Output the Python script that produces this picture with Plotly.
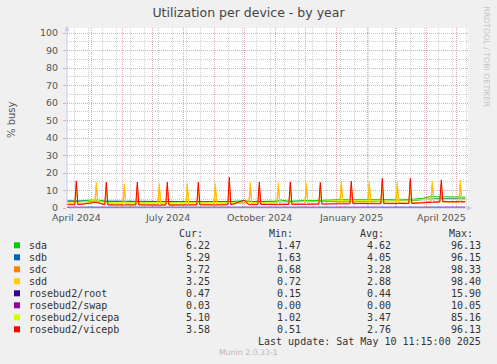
import plotly.graph_objects as go
import pandas as pd

# ---------------- data ----------------
knot_days = [
    "2024-04-07", "2024-04-14 12:00", "2024-04-17 12:00", "2024-04-28",
    "2024-05-04 12:00", "2024-05-07 12:00", "2024-05-14 12:00", "2024-05-17 12:00",
    "2024-06-01 12:00", "2024-06-04 12:00", "2024-06-14 12:00", "2024-06-17 12:00",
    "2024-07-06 12:00", "2024-07-09 12:00", "2024-07-14 12:00", "2024-07-17 12:00",
    "2024-08-03 12:00", "2024-08-06 12:00", "2024-08-14 12:00", "2024-08-17 12:00",
    "2024-08-31 12:00", "2024-09-03 12:00", "2024-09-14 12:00", "2024-09-17 12:00",
    "2024-10-01", "2024-10-05 12:00", "2024-10-08 12:00", "2024-10-14 12:00", "2024-10-17 12:00",
    "2024-11-02 12:00", "2024-11-05 12:00", "2024-11-14 12:00", "2024-11-17 12:00",
    "2024-11-30 12:00", "2024-12-03 12:00", "2024-12-14 12:00", "2024-12-17 12:00",
    "2025-01-04 12:00", "2025-01-07 12:00", "2025-01-14 12:00", "2025-01-17 12:00",
    "2025-02-01 12:00", "2025-02-04 12:00", "2025-02-14 12:00", "2025-02-17 12:00",
    "2025-03-01 12:00", "2025-03-04 12:00", "2025-03-14 12:00", "2025-03-17 12:00",
    "2025-03-29", "2025-04-05 12:00", "2025-04-08 12:00", "2025-04-14 12:00", "2025-04-17 12:00",
    "2025-05-03 12:00", "2025-05-06 12:00", "2025-05-10",
]

sda = [3.8, 3.7, 3.8, 4.4, 4.7, 4.6, 3.7, 3.6, 3.6, 3.5, 3.6, 3.5, 3.6, 3.7, 3.6, 3.5, 3.6, 3.7,
       3.6, 3.7, 3.7, 3.8, 3.6, 3.7, 4.2, 3.8, 3.7, 3.7, 3.8, 3.9, 4.6, 3.9, 4.0, 4.2, 4.3, 4.3,
       4.4, 4.7, 4.8, 4.6, 4.7, 4.7, 4.8, 4.7, 4.8, 4.9, 5.0, 4.8, 4.9, 5.6, 6.6, 6.4, 6.3, 6.4,
       6.3, 6.2, 6.22]
sdb = [4.1, 3.9, 3.9, 3.9, 4.0, 4.0, 3.8, 3.8, 3.7, 3.7, 3.7, 3.7, 3.6, 3.6, 3.6, 3.6, 3.6, 3.6,
       3.6, 3.6, 3.5, 3.6, 3.5, 3.5, 3.5, 3.4, 3.4, 3.4, 3.4, 3.4, 3.4, 3.4, 3.4, 3.5, 3.5, 3.6,
       3.7, 4.0, 4.1, 4.0, 4.0, 4.0, 4.1, 4.0, 4.1, 4.2, 4.2, 4.1, 4.2, 4.8, 5.5, 5.4, 5.3, 5.4,
       5.3, 5.3, 5.29]
sdc = [2.3, 2.2, 2.3, 2.8, 3.2, 3.0, 2.3, 2.2, 2.1, 2.1, 2.1, 2.2, 2.0, 2.1, 2.1, 2.1, 2.0, 2.1,
       2.1, 2.2, 2.1, 2.1, 2.2, 2.2, 3.0, 2.2, 2.2, 2.2, 2.3, 2.2, 2.3, 2.3, 2.4, 2.4, 2.4, 2.5,
       2.5, 2.7, 2.8, 2.7, 2.8, 2.8, 2.8, 2.7, 2.8, 2.8, 2.9, 2.8, 2.9, 3.3, 3.8, 3.8, 3.7, 3.8,
       3.7, 3.7, 3.72]
sdd = [2.5, 2.4, 2.5, 3.0, 3.4, 3.2, 2.5, 2.4, 2.4, 2.3, 2.4, 2.4, 2.3, 2.3, 2.3, 2.3, 2.3, 2.3,
       2.3, 2.4, 2.3, 2.3, 2.4, 2.4, 2.8, 2.4, 2.4, 2.4, 2.4, 2.4, 2.5, 2.4, 2.5, 2.5, 2.5, 2.6,
       2.6, 2.7, 2.7, 2.6, 2.7, 2.7, 2.7, 2.7, 2.7, 2.8, 2.8, 2.7, 2.8, 3.0, 3.4, 3.3, 3.3, 3.3,
       3.2, 3.3, 3.25]
root = [0.45, 0.44, 0.45, 0.46, 0.47, 0.46, 0.44, 0.43, 0.44, 0.43, 0.44, 0.44, 0.43, 0.44, 0.43, 0.43, 0.44, 0.43,
        0.44, 0.44, 0.43, 0.44, 0.44, 0.44, 0.46, 0.44, 0.44, 0.44, 0.44, 0.44, 0.45, 0.44, 0.44, 0.44, 0.44, 0.45,
        0.45, 0.44, 0.45, 0.44, 0.44, 0.44, 0.45, 0.44, 0.44, 0.45, 0.45, 0.44, 0.45, 0.46, 0.47, 0.47, 0.46, 0.47,
        0.47, 0.47, 0.47]
swap = [0.00, 0.00, 0.00, 0.00, 0.00, 0.00, 0.00, 0.00, 0.00, 0.00, 0.00, 0.00, 0.00, 0.00, 0.00, 0.00, 0.00, 0.00,
        0.00, 0.00, 0.00, 0.00, 0.00, 0.00, 0.00, 0.00, 0.00, 0.00, 0.00, 0.00, 0.00, 0.00, 0.00, 0.00, 0.00, 0.00,
        0.00, 0.00, 0.00, 0.00, 0.00, 0.00, 0.00, 0.00, 0.00, 0.00, 0.00, 0.00, 0.00, 0.00, 0.00, 0.00, 0.00, 0.00,
        0.00, 0.00, 0.03]
vicepa = [3.2, 3.1, 3.2, 3.9, 4.6, 4.4, 3.1, 3.0, 3.0, 3.0, 3.0, 3.0, 2.9, 3.0, 3.0, 2.9, 3.0, 3.0,
          3.0, 3.1, 3.1, 3.1, 3.0, 3.1, 3.6, 3.1, 3.1, 3.1, 3.2, 3.3, 3.9, 3.3, 3.4, 3.7, 3.8, 3.8,
          3.9, 4.3, 4.4, 4.2, 4.3, 4.3, 4.4, 4.3, 4.4, 4.4, 4.5, 4.4, 4.5, 4.8, 5.2, 5.1, 5.0, 5.1,
          5.0, 5.1, 5.10]
vicepb = [1.9, 1.8, 1.9, 2.6, 3.2, 3.0, 1.8, 1.7, 1.7, 1.6, 1.7, 1.7, 1.6, 1.7, 1.7, 1.6, 1.7, 1.7,
          1.7, 1.8, 1.7, 1.8, 1.8, 1.8, 4.5, 1.9, 1.9, 1.9, 2.0, 1.9, 2.0, 2.0, 2.1, 2.1, 2.1, 2.2,
          2.2, 2.4, 2.5, 2.4, 2.5, 2.5, 2.5, 2.4, 2.5, 2.5, 2.6, 2.5, 2.6, 3.0, 3.6, 3.6, 3.5, 3.6,
          3.5, 3.6, 3.58]

# monthly spikes (mid-month) and first-weekend spikes
red_days = ["2024-04-16", "2024-05-16", "2024-06-16", "2024-07-16", "2024-08-16", "2024-09-16",
            "2024-10-16", "2024-11-16", "2024-12-16", "2025-01-16", "2025-02-16", "2025-03-16",
            "2025-04-16"]
yellow_days = ["2024-05-06", "2024-06-03", "2024-07-08", "2024-08-05", "2024-09-02", "2024-10-07",
               "2024-11-04", "2024-12-02", "2025-01-06", "2025-02-03", "2025-03-03", "2025-04-07",
               "2025-05-05"]
vicepb_red = [15.5, 14.8, 14.8, 14.8, 14.8, 17.6, 14.9, 14.9, 14.6, 15.4, 17.0, 17.0, 16.1]
sdc_red = [13.2, 12.6, 12.6, 12.6, 12.6, 15.0, 12.7, 12.7, 12.4, 13.1, 14.5, 14.5, 13.7]
sdd_red = [10.8, 10.3, 10.3, 10.3, 10.3, 12.3, 10.4, 10.4, 10.2, 10.8, 11.9, 11.9, 11.2]
sdd_yel = [14.8, 13.8, 14.0, 14.0, 14.0, 14.6, 14.6, 14.6, 15.4, 15.4, 14.6, 15.4, 16.0]
sdc_yel = [12.6, 11.7, 11.9, 11.9, 11.9, 12.4, 12.4, 12.4, 13.1, 13.1, 12.4, 13.1, 13.6]

names = ["sda", "sdb", "sdc", "sdd", "rosebud2/root", "rosebud2/swap", "rosebud2/vicepa", "rosebud2/vicepb"]
colors = ["#00CC00", "#0066B3", "#FF8000", "#FFCC00", "#330099", "#990099", "#CCFF00", "#FF0000"]
cur_vals = ["6.22", "5.29", "3.72", "3.25", "0.47", "0.03", "5.10", "3.58"]
min_vals = ["1.47", "1.63", "0.68", "0.72", "0.15", "0.00", "1.02", "0.51"]
avg_vals = ["4.62", "4.05", "3.28", "2.88", "0.44", "0.00", "3.47", "2.76"]
max_vals = ["96.13", "96.15", "98.33", "98.40", "15.90", "10.05", "85.16", "96.13"]

x_label_days = ["2024-04-16", "2024-07-16", "2024-10-16", "2025-01-16", "2025-04-16"]
x_labels = ["April 2024", "July 2024", "October 2024", "January 2025", "April 2025"]

# ---------------- figure ----------------
W, H = 497, 364
L, R, T, B = 67, 29, 28, 156
PW, PH = W - L - R, H - T - B


def px(x):
    return (x - L) / PW


def py(y):
    return (H - B - y) / PH


def build(base, extra):
    xs = list(knot_days)
    ys = list(base)
    for days, vals in extra:
        xs += days
        ys += vals
    df = pd.DataFrame({"t": pd.to_datetime(xs, format="mixed"), "v": ys}).sort_values("t")
    return df["t"], df["v"]


series = [
    (sda, []),
    (sdb, []),
    (sdc, [(red_days, sdc_red), (yellow_days, sdc_yel)]),
    (sdd, [(red_days, sdd_red), (yellow_days, sdd_yel)]),
    (root, []),
    (swap, []),
    (vicepa, []),
    (vicepb, [(red_days, vicepb_red)]),
]

fig = go.Figure()
for (base, extra), name, col in zip(series, names, colors):
    x, y = build(base, extra)
    fig.add_trace(go.Scatter(x=x, y=y, mode="lines", name=name,
                             line=dict(color=col, width=1), cliponaxis=False,
                             showlegend=False, hoverinfo="skip"))

RED_GRID = "#F2A3A3"
GRAY_GRID = "#CFCFCF"

fig.update_layout(
    width=W, height=H, autosize=False,
    margin=dict(l=L, r=R, t=T, b=B, pad=0),
    paper_bgcolor="#F0F0F0", plot_bgcolor="#FFFFFF",
    font=dict(family="DejaVu Sans", color="#444444"),
    title=dict(text="Utilization per device - by year", x=0.5, xanchor="center",
               y=1 - 13 / H, yanchor="middle",
               font=dict(family="DejaVu Sans", size=12.5, color="#444444")),
    showlegend=False,
)
fig.update_xaxes(
    type="date", range=["2024-04-06 16:48", "2025-05-12 16:48"],
    showticklabels=False, ticks="", showline=False, zeroline=False,
    tick0="2024-05-01", dtick="M1",
    showgrid=True, gridcolor=RED_GRID, griddash="1px,1px", gridwidth=1,
    minor=dict(tick0="2024-04-14", dtick=14 * 86400000, showgrid=True,
               gridcolor=GRAY_GRID, griddash="1px,1px", gridwidth=1),
)
fig.update_yaxes(
    range=[0, (H - B - T) / 175 * 100],
    tickmode="array", tickvals=[0, 10, 20, 30, 40, 50, 60, 70, 80, 90, 100],
    ticktext=["0", "10", "20", "30", "40", "50", "60", "70", "80", "90", "100"],
    showgrid=True, gridcolor=RED_GRID, griddash="1px,1px", gridwidth=1,
    minor=dict(tickvals=[5, 15, 25, 35, 45, 55, 65, 75, 85, 95], showgrid=True,
               gridcolor=GRAY_GRID, griddash="1px,1px", gridwidth=1),
    ticks="outside", ticklen=3, tickcolor=RED_GRID, ticklabelstandoff=3,
    tickfont=dict(family="DejaVu Sans", size=9.5, color="#555555"),
    zeroline=False, showline=False,
)

ann = []
# x month labels
for d, lab in zip(x_label_days, x_labels):
    ann.append(dict(x=d, xref="x", y=py(217.6), yref="paper", text=lab, showarrow=False,
                    xanchor="center", yanchor="middle", borderpad=0,
                    font=dict(family="DejaVu Sans", size=9.5, color="#555555")))
# axis arrows
ann.append(dict(x=px(472), y=py(208), xref="paper", yref="paper", ax=-405, ay=0,
                text="", showarrow=True, arrowhead=2, arrowsize=1, arrowwidth=1,
                arrowcolor="#C8C8F0"))
ann.append(dict(x=px(67), y=py(26), xref="paper", yref="paper", ax=0, ay=182,
                text="", showarrow=True, arrowhead=2, arrowsize=1, arrowwidth=1,
                arrowcolor="#C8C8F0"))
# y title
ann.append(dict(x=px(11), y=py(120), xref="paper", yref="paper", text="% busy", textangle=-90,
                showarrow=False, xanchor="center", yanchor="middle",
                font=dict(family="DejaVu Sans", size=10, color="#555555")))
# watermark
ann.append(dict(x=px(486), y=py(56.5), xref="paper", yref="paper", text="RRDTOOL / TOBI OETIKER",
                textangle=90, showarrow=False, xanchor="center", yanchor="middle",
                font=dict(family="DejaVu Sans", size=7.8, color="#C4C4C4")))

mono = dict(family="DejaVu Sans Mono", size=10, color="#333333")
row0 = 245.3
for lab, xl in zip(["Cur:", "Min:", "Avg:", "Max:"], [176.7, 267.3, 358.3, 447.3]):
    ann.append(dict(x=px(xl), y=py(row0 - 12), xref="paper", yref="paper", text=lab,
                    showarrow=False, xanchor="left", yanchor="middle", font=mono))
shapes = []
for i, (nm, col) in enumerate(zip(names, colors)):
    yc = row0 + 12 * i
    shapes.append(dict(type="rect", xref="paper", yref="paper",
                       x0=px(14), x1=px(20), y0=py(yc - 3), y1=py(yc + 3),
                       fillcolor=col, line=dict(width=0)))
    ann.append(dict(x=px(26.7), y=py(yc), xref="paper", yref="paper", text=nm,
                    showarrow=False, xanchor="left", yanchor="middle", font=mono))
    for vals, xr in zip([cur_vals, min_vals, avg_vals, max_vals], [212.3, 303.3, 393.3, 483.3]):
        ann.append(dict(x=px(xr), y=py(yc), xref="paper", yref="paper", text=vals[i],
                        showarrow=False, xanchor="right", yanchor="middle", font=mono))
ann.append(dict(x=px(483.3), y=py(341), xref="paper", yref="paper",
                text="Last update: Sat May 10 11:15:00 2025",
                showarrow=False, xanchor="right", yanchor="middle", font=mono))
ann.append(dict(x=px(248), y=py(352.7), xref="paper", yref="paper", text="Munin 2.0.33-1",
                showarrow=False, xanchor="center", yanchor="middle",
                font=dict(family="DejaVu Sans", size=7.8, color="#B8B8B8")))

fig.update_layout(annotations=ann, shapes=shapes)
fig.write_html("out.html", config={"displayModeBar": False, "staticPlot": True},
               post_script="document.body.style.margin='0';"
                           "document.body.style.background='#F0F0F0';"
                           "document.body.style.overflow='hidden';")
